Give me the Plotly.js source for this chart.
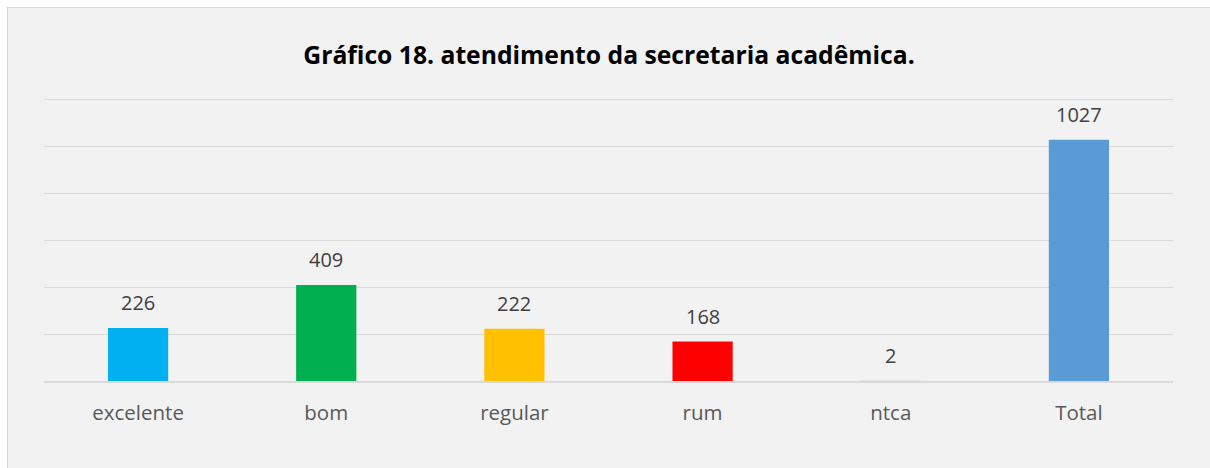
<!DOCTYPE html>
<html><head><meta charset="utf-8">
<script src="https://cdn.plot.ly/plotly-3.0.1.min.js"></script>
<style>
html,body{margin:0;padding:0;background:#fff;width:1210px;height:468px;overflow:hidden}
#frame{position:absolute;left:7px;top:7px;width:1203px;height:461px;border-left:1px solid #d9d9d9;border-top:1px solid #d9d9d9;background:#f2f2f2}
#chart{position:absolute;left:0;top:0;width:1202px;height:460px}
</style></head><body>
<div id="frame"><div id="chart"></div></div>
<script>
const categories = ["excelente","bom","regular","rum","ntca","Total"];
const values = [226, 409, 222, 168, 2, 1027];
const colors = ["#00b0f0","#00b050","#ffc000","#ff0000","#d9d9d9","#5b9bd5"];

const trace = {
  type: "bar",
  x: categories,
  y: values,
  marker: {color: colors},
  hoverinfo: "none"
};
const annotations = categories.map((c, i) => ({
  x: c, y: values[i], xref: "x", yref: "y",
  text: String(values[i]), showarrow: false,
  yanchor: "bottom", yshift: 10,
  font: {family: "Open Sans, sans-serif", size: 20, color: "#404040"}
}));
const layout = {
  width: 1202, height: 460,
  margin: {l: 36, r: 37, t: 88, b: 87},
  paper_bgcolor: "#f2f2f2",
  plot_bgcolor: "#f2f2f2",
  bargap: 0.68,
  showlegend: false,
  title: {
    text: "<b>Gráfico 18. atendimento da secretaria acadêmica.</b>",
    font: {family: "Open Sans, sans-serif", size: 24.7, color: "#000"},
    x: 0.5, xanchor: "center", yref: "container", y: 1 - 47/460, yanchor: "middle",
    pad: {t: 0, b: 0}
  },
  xaxis: {
    showgrid: false, showline: true, linecolor: "#d9d9d9", linewidth: 1.5,
    ticks: "", tickfont: {family: "Open Sans, sans-serif", size: 20.5, color: "#595959"},
    ticklabelstandoff: 13, fixedrange: true
  },
  yaxis: {
    range: [0, 1212.8], tick0: 0, dtick: 200, showgrid: true, gridcolor: "#d9d9d9", gridwidth: 1,
    showticklabels: false, zeroline: false, fixedrange: true
  },
  annotations: annotations
};
Plotly.newPlot("chart", [trace], layout, {displayModeBar: false, staticPlot: true});
</script>
</body></html>
